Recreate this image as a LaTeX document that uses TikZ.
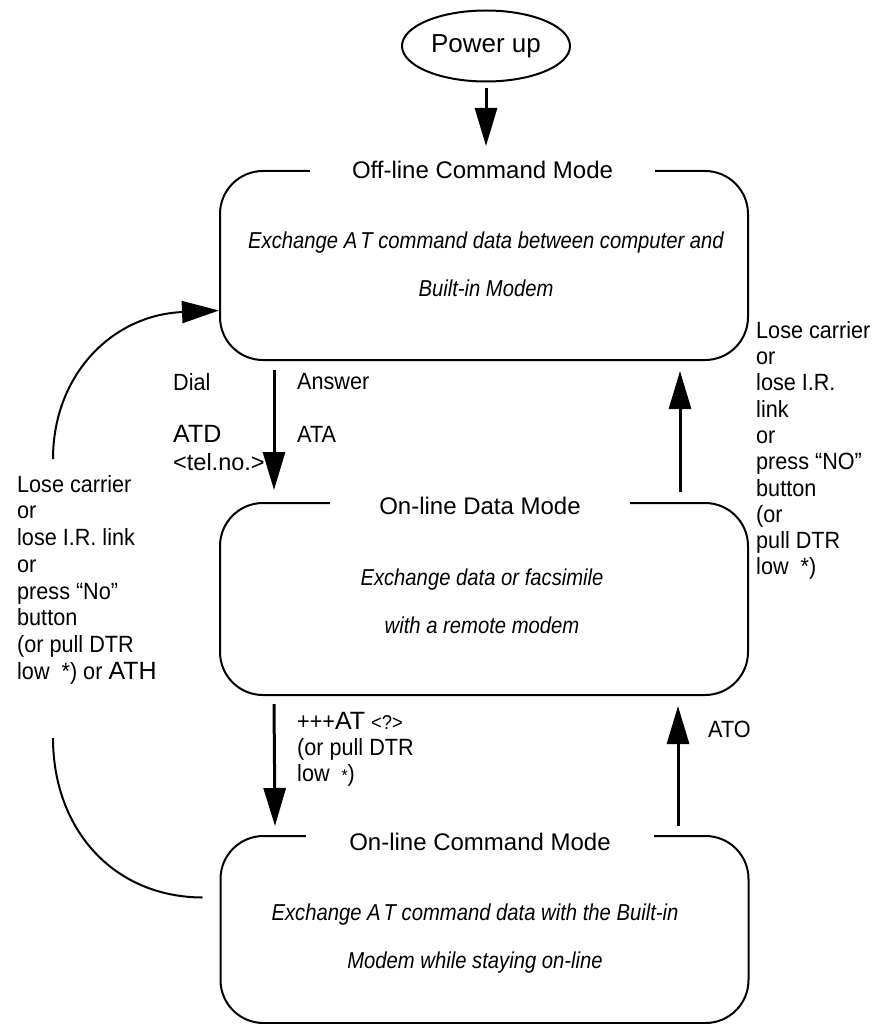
\documentclass[tikz,border=0pt]{standalone}
\usepackage{fontspec}
\setmainfont{Liberation Sans}
\newfontfamily\lblsans{Liberation Sans}[FakeStretch=0.92]
\newfontfamily\bodysans{Liberation Sans}[FakeStretch=0.88]
\usetikzlibrary{arrows.meta, shapes.geometric}

\begin{document}
\begin{tikzpicture}[x=1pt, y=-1pt,
  modebox/.style={draw, line width=2pt, rounded corners=43pt, minimum width=528pt, inner sep=0pt},
  modetitle/.style={fill=white, inner sep=0pt, minimum height=24pt, font=\fontsize{24}{26}\selectfont},
  modetext/.style={align=center, anchor=north, inner sep=0pt, font=\bodysans\fontsize{23}{48.5}\selectfont\itshape},
  lbl/.style={align=left, anchor=north west, inner sep=0pt, font=\lblsans\fontsize{23.5}{26.5}\selectfont},
  flow/.style={line width=3pt, -{Triangle[length=38pt, width=22pt]}},
  backline/.style={line width=2pt}]
  \useasboundingbox (0,0) rectangle (880,1024);

  % start
  \node[draw, ellipse, line width=2pt, minimum width=168pt, minimum height=71pt, inner sep=0pt,
        font=\fontsize{26}{28}\selectfont] (power) at (486,46) {Power up};

  % the three modes
  \node[modebox, minimum height=189pt] (offbox) at (484,265.5) {};
  \node[modebox, minimum height=192pt] (databox) at (484,599) {};
  \node[modebox, minimum height=187pt] (cmdbox) at (484.5,929.5) {};

  \node[modetitle, minimum width=345pt] (offtitle) at ([xshift=-1.5pt]offbox.north) {Off-line Command Mode};
  \node[modetitle, minimum width=300pt, yshift=-4pt] (datatitle) at ([xshift=-4pt]databox.north) {On-line Data Mode};
  \node[modetitle, minimum width=348pt, yshift=-7pt] (cmdtitle) at ([xshift=-4.5pt]cmdbox.north) {On-line Command Mode};

  \node[modetext] (offtext) at (486,231.5)
    {Exchange A\kern3pt T command data between computer and\\Built-in Modem};
  \node[modetext] (datatext) at (482,568.5)
    {Exchange data or facsimile\\with a remote modem};
  \node[modetext] (cmdtext) at (475,903.5)
    {Exchange A\kern3pt T command data with the Built-in\\Modem while staying on-line};

  % transitions
  \draw[flow, shorten <=6pt, shorten >=24pt] (power.south) -- (power.south |- offbox.north);
  \draw[flow] ([xshift=-210pt, yshift=-9pt]offbox.south) -- ([xshift=-210pt, yshift=12pt]databox.north);
  \draw[flow] ([xshift=196pt, yshift=10pt]databox.north) -- ([xshift=196pt, yshift=-10pt]offbox.south);
  \draw[flow] ([xshift=-210pt, yshift=-8pt]databox.south) -- ([xshift=-209.5pt, yshift=9pt]cmdbox.north);
  \draw[flow] ([xshift=193.5pt, yshift=9pt]cmdbox.north) -- ([xshift=194pt, yshift=-10pt]databox.south);

  % back to off-line
  \coordinate (lostup) at (53,459);
  \coordinate (lostdown) at (53,738);
  \draw[backline, -{Triangle[length=37pt, width=22pt]}] (lostup)
        .. controls (53,375) and (112,315) .. ([yshift=-45pt]offbox.west);
  \draw[backline] (lostdown)
        .. controls (53,828) and (112,897) .. ([xshift=-17pt, yshift=32pt]cmdbox.west);

  % labels
  \node[lbl] (dial) at (173,373) {Dial};
  \node[lbl] (answer) at (297,373) {Answer};
  \node[lbl, font=\fontsize{25}{27}\selectfont] (atd) at (173,425) {ATD};
  \node[lbl, font=\fontsize{23.5}{25}\selectfont] (telno) at (173,453) {<tel.no.>};
  \node[lbl] (ata) at (297,426) {ATA};
  \node[lbl, font=\lblsans\fontsize{23.5}{26.7}\selectfont] (lostleft) at (17,475)
    {Lose carrier\\or\\lose I.R. link\\or\\press “No”\\button\\(or pull DTR\\low~ *) or {\rmfamily\fontsize{25}{26.7}\selectfont ATH}};
  \node[lbl, font=\lblsans\fontsize{23.5}{26.3}\selectfont] (lostright) at (756,321)
    {Lose carrier\\or\\lose I.R.\\link\\or\\press “NO”\\button\\(or\\pull DTR\\low~ *)};
  \node[lbl, font=\lblsans\fontsize{23.5}{26}\selectfont] (escape) at (297,712)
    {+++{\rmfamily\fontsize{25}{26}\selectfont AT} {\fontsize{20}{26}\selectfont <?>}\\(or pull DTR\\low~ {\fontsize{17}{26}\selectfont *})};
  \node[lbl] (ato) at (708,721) {ATO};
\end{tikzpicture}
\end{document}
